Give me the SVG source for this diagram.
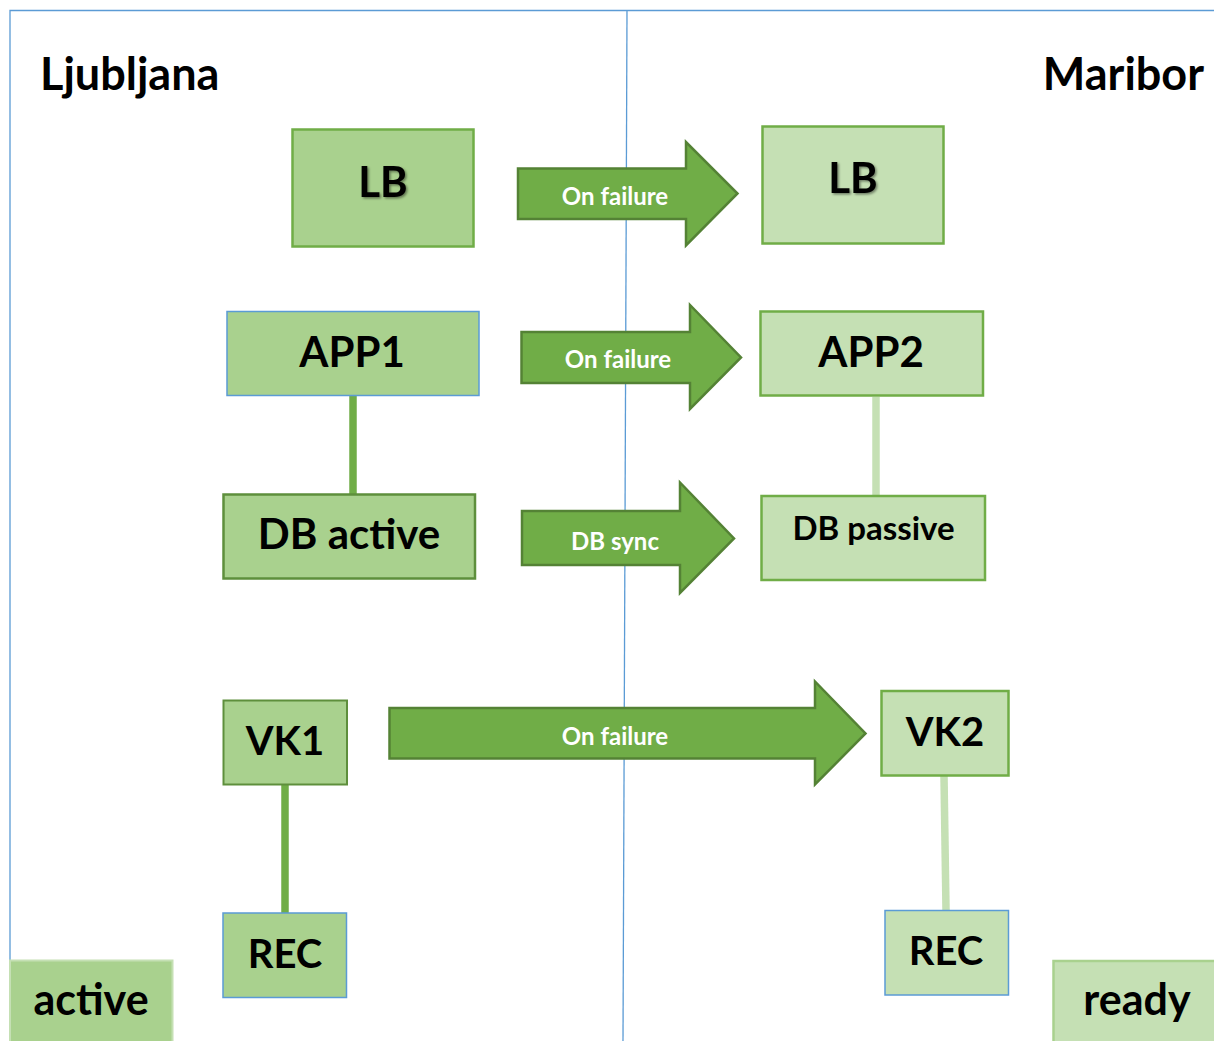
<svg xmlns="http://www.w3.org/2000/svg" width="1214" height="1041" viewBox="0 0 1214 1041">
<defs>
<style>
.t{font-family:Lato,"Open Sans","Liberation Sans",sans-serif;font-weight:bold;fill:#000;text-anchor:middle}
.w{font-family:Lato,"Open Sans","Liberation Sans",sans-serif;font-weight:bold;fill:#fff;text-anchor:middle;font-size:24px}
.act{fill:#A9D18E;stroke:#70AD47;stroke-width:2.5}
.rdy{fill:#C5E0B4;stroke:#70AD47;stroke-width:2.5}
.actb{fill:#A9D18E;stroke:#5B9BD5;stroke-width:1.5}
.rdyb{fill:#C5E0B4;stroke:#5B9BD5;stroke-width:1.5}
.arr{fill:#70AD47;stroke:#548235;stroke-width:2.5;stroke-linejoin:miter}
.frame{fill:none;stroke:#5B9BD5;stroke-width:1.3}
</style>
<filter id="sh" x="-20%" y="-20%" width="140%" height="140%">
<feDropShadow dx="1.5" dy="1.5" stdDeviation="1.2" flood-color="#000" flood-opacity="0.45"/>
</filter>
</defs>
<rect width="1214" height="1041" fill="#fff"/>
<g id="frame">
<polyline class="frame" points="10,1041 10,10.5 1214,10.5"/>
<line class="frame" x1="627" y1="10" x2="623" y2="1041"/>
</g>
<g id="titles">
<text class="t" x="40" y="90" font-size="45" style="text-anchor:start">Ljubljana</text>
<text class="t" x="1204" y="90" font-size="45" style="text-anchor:end">Maribor</text>
</g>
<g id="connectors">
<line x1="353" y1="396" x2="353" y2="494" stroke="#70AD47" stroke-width="7.5"/>
<line x1="285" y1="785" x2="285" y2="913" stroke="#70AD47" stroke-width="7.5"/>
<line x1="876" y1="397" x2="876" y2="496" stroke="#C5E0B4" stroke-width="7.5"/>
<line x1="944" y1="776" x2="946" y2="910" stroke="#C5E0B4" stroke-width="7.5"/>
<g id="arrow-lb">
<polygon class="arr" points="518,168.5 686,168.5 686,142 737.5,193.5 686,245.5 686,219 518,219"/>
<text class="w" x="615" y="205">On failure</text>
</g>
<g id="arrow-app">
<polygon class="arr" points="521.5,332 690,332 690,305 741,357.5 690,409 690,383 521.5,383"/>
<text class="w" x="618" y="368">On failure</text>
</g>
<g id="arrow-db">
<polygon class="arr" points="522,511 680,511 680,482.5 734,538.5 680,593 680,565 522,565"/>
<text class="w" x="615" y="550">DB sync</text>
</g>
<g id="arrow-vk">
<polygon class="arr" points="389.5,708 815,708 815,681.5 865.5,733.5 815,784.5 815,758.5 389.5,758.5"/>
<text class="w" x="615" y="745">On failure</text>
</g>
</g>
<g id="lb1">
<rect class="act" x="292.5" y="129.5" width="181" height="117"/>
<text class="t" x="383" y="197" font-size="42" filter="url(#sh)">LB</text>
</g>
<g id="lb2">
<rect class="rdy" x="762.5" y="126.5" width="181" height="117"/>
<text class="t" x="853" y="193" font-size="42" filter="url(#sh)">LB</text>
</g>
<g id="app1">
<rect class="actb" x="227" y="311.5" width="252" height="84"/>
<text class="t" x="352" y="367" font-size="42">APP1</text>
</g>
<g id="app2">
<rect class="rdy" x="760.5" y="311.5" width="222.5" height="84"/>
<text class="t" x="871" y="367" font-size="42">APP2</text>
</g>
<g id="dbactive">
<rect x="223.5" y="494.5" width="251.5" height="84" fill="#A9D18E" stroke="#5E8F3C" stroke-width="2.5"/>
<text class="t" x="349" y="549" font-size="42">DB active</text>
</g>
<g id="dbpassive">
<rect class="rdy" x="761.5" y="496" width="223.5" height="84"/>
<text class="t" x="873.5" y="540" font-size="33">DB passive</text>
</g>
<g id="vk1">
<rect x="223.5" y="700.5" width="123.5" height="84" fill="#A9D18E" stroke="#5E8F3C" stroke-width="2"/>
<text class="t" x="285" y="755" font-size="40">VK1</text>
</g>
<g id="vk2">
<rect class="rdy" x="881.5" y="691" width="127" height="84.5"/>
<text class="t" x="945" y="746" font-size="40">VK2</text>
</g>
<g id="rec1">
<rect class="actb" x="223" y="913" width="123.5" height="84.5"/>
<text class="t" x="285" y="968" font-size="40">REC</text>
</g>
<g id="rec2">
<rect class="rdyb" x="885" y="910.5" width="123.5" height="84.5"/>
<text class="t" x="946" y="965" font-size="40">REC</text>
</g>
<g id="legend-active">
<rect x="10" y="960.5" width="162.5" height="85" fill="#A9D18E" stroke="#C5E0B4" stroke-width="2"/>
<text class="t" x="91" y="1015" font-size="43">active</text>
</g>
<g id="legend-ready">
<rect x="1053.5" y="961" width="165" height="85" fill="#C5E0B4" stroke="#A9D18E" stroke-width="2.5"/>
<text class="t" x="1137" y="1015" font-size="43">ready</text>
</g>
</svg>
